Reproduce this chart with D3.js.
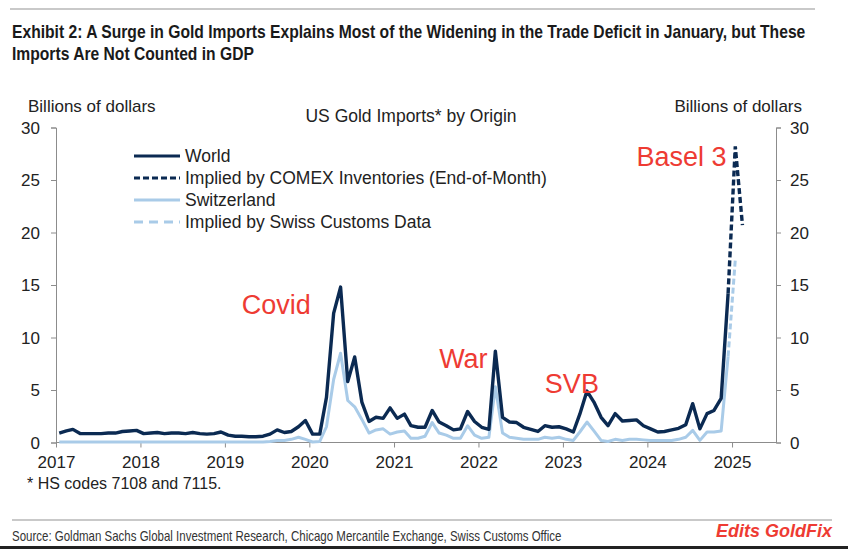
<!DOCTYPE html>
<html>
<head>
<meta charset="utf-8">
<script src="https://cdn.jsdelivr.net/npm/d3@7"></script>
<style>
  body { margin: 0; background: #fff; }
  svg { display: block; font-family: Arial, "Liberation Sans", sans-serif; }
  .axis path, .axis line { stroke: #8c8c8c; }
  .axis text { font-size: 17px; fill: #222; }
</style>
</head>
<body>
<div id="chart"></div>
<script>
/* DATA */
const yTicks = [0, 5, 10, 15, 20, 25, 30];
const xTickYears = [2017, 2018, 2019, 2020, 2021, 2022, 2023, 2024, 2025];

// monthly values, Jan 2017 .. Dec 2024 (billions of dollars)
const world = [
  0.9, 1.1, 1.25, 0.85, 0.85, 0.85, 0.85, 0.9, 0.9, 1.05, 1.1, 1.15,
  0.85, 0.9, 0.95, 0.85, 0.9, 0.9, 0.85, 0.95, 0.85, 0.8, 0.85, 1.0,
  0.7, 0.6, 0.6, 0.55, 0.55, 0.6, 0.8, 1.2, 0.95, 1.05, 1.5, 2.1,
  0.8, 0.8, 4.3, 12.3, 14.8, 5.8, 8.15, 3.85, 2.0, 2.4, 2.3, 3.3,
  2.3, 2.7, 1.6, 1.45, 1.45, 3.05, 1.95, 1.6, 1.2, 1.3, 2.95, 2.0,
  1.45, 1.25, 8.7, 2.4, 1.95, 1.9, 1.45, 1.25, 1.05, 1.6, 1.45, 1.5,
  1.3, 1.0, 2.7, 4.9, 3.85, 2.4, 1.6, 2.75, 2.05, 2.1, 2.15, 1.6,
  1.3, 1.0, 1.05, 1.2, 1.35, 1.7, 3.7, 1.3, 2.75, 3.05, 4.2, 14.2
];
const switzerland = [
  0.05, 0.05, 0.05, 0.05, 0.05, 0.05, 0.05, 0.05, 0.05, 0.05, 0.05, 0.05,
  0.05, 0.05, 0.05, 0.05, 0.05, 0.05, 0.05, 0.05, 0.05, 0.05, 0.05, 0.05,
  0.05, 0.05, 0.05, 0.05, 0.05, 0.05, 0.1, 0.2, 0.2, 0.3, 0.5, 0.3,
  0.05, 0.1, 1.5, 6.0, 8.5, 4.0, 3.4, 2.2, 0.9, 1.2, 1.3, 0.8,
  1.0, 1.1, 0.4, 0.4, 0.6, 1.9, 0.9, 0.7, 0.4, 0.4, 1.6, 0.7,
  0.4, 0.5, 5.3, 0.9, 0.5, 0.4, 0.3, 0.3, 0.3, 0.5, 0.4, 0.5,
  0.3, 0.2, 1.0, 1.95, 1.1, 0.2, 0.1, 0.3, 0.2, 0.3, 0.3, 0.25,
  0.2, 0.2, 0.2, 0.2, 0.3, 0.5, 1.15, 0.2, 1.0, 1.0, 1.1, 8.2
];
// dashed extensions: Dec 2024 .. Feb 2025
const comexDates = ["2024-12", "2025-01", "2025-02"];
const comexImplied = [14.2, 28.2, 20.7];
const swissDates = ["2024-12", "2025-01"];
const swissImplied = [8.2, 17.4];

// annotation text anchored at its left baseline
const annotations = [
  { text: "Covid", date: "2019-03", value: 12.2 },
  { text: "War", date: "2021-07", value: 7.1 },
  { text: "SVB", date: "2022-10", value: 4.7 },
  { text: "Basel 3", date: "2023-11", value: 26.3 }
];

const legendItems = [
  { label: "World", color: "#0b2a52", dash: null },
  { label: "Implied by COMEX Inventories (End-of-Month)", color: "#0b2a52", dash: "6,3" },
  { label: "Switzerland", color: "#a9cbe8", dash: null },
  { label: "Implied by Swiss Customs Data", color: "#a9cbe8", dash: "9,6" }
];

/* CONSTANTS */
const width = 848, height = 549;
const margin = { left: 56, right: 72, top: 127.5, bottom: 106.5 };
const navy = "#0b2a52", light = "#a9cbe8", red = "#ee3b33";

const monthDate = i => new Date(2017, i, 15);
const parseMid = s => { const [y, m] = s.split("-").map(Number); return new Date(y, m - 1, 15); };

const worldData = world.map((v, i) => ({ date: monthDate(i), value: v }));
const swissData = switzerland.map((v, i) => ({ date: monthDate(i), value: v }));
const comexData = comexDates.map((d, i) => ({ date: parseMid(d), value: comexImplied[i] }));
const swissImpData = swissDates.map((d, i) => ({ date: parseMid(d), value: swissImplied[i] }));

const svg = d3.select("#chart").append("svg").attr("width", width).attr("height", height);

// squeeze a text horizontally so it spans exactly `w` pixels from x
function fitText(sel, x, y, w) {
  const natural = sel.node().getComputedTextLength();
  sel.attr("x", 0).attr("y", 0)
    .attr("transform", `translate(${x},${y}) scale(${w / natural},1)`);
}

// header
svg.append("line").attr("x1", 10).attr("x2", 815).attr("y1", 9).attr("y2", 9)
  .attr("stroke", "#c9c9c9").attr("stroke-width", 2);
svg.append("text")
  .attr("font-weight", "bold").attr("font-size", 17.5).attr("fill", "#1a1a1a")
  .text("Exhibit 2: A Surge in Gold Imports Explains Most of the Widening in the Trade Deficit in January, but These")
  .call(fitText, 12, 38, 794);
svg.append("text")
  .attr("font-weight", "bold").attr("font-size", 17.5).attr("fill", "#1a1a1a")
  .text("Imports Are Not Counted in GDP")
  .call(fitText, 12, 60, 242);

/* SCALES */
const xScale = d3.scaleTime()
  .domain([new Date(2017, 0, 1), new Date(2025, 6, 10)])
  .range([margin.left, width - margin.right]);
const yScale = d3.scaleLinear()
  .domain([0, 30])
  .range([height - margin.bottom, margin.top]);

/* AXES */
svg.append("g").attr("class", "axis")
  .attr("transform", `translate(${margin.left},0)`)
  .call(d3.axisLeft(yScale).tickValues(yTicks).tickSize(5).tickPadding(11))
  .call(g => g.selectAll("text").attr("dy", "0.35em"));
svg.append("g").attr("class", "axis")
  .attr("transform", `translate(${width - margin.right},0)`)
  .call(d3.axisRight(yScale).tickValues(yTicks).tickSize(5).tickPadding(9))
  .call(g => g.selectAll("text").attr("dy", "0.35em"));
svg.append("g").attr("class", "axis")
  .attr("transform", `translate(0,${height - margin.bottom})`)
  .call(d3.axisBottom(xScale).tickValues(xTickYears.map(y => new Date(y, 0, 1)))
    .tickFormat(d3.timeFormat("%Y")).tickSize(5).tickSizeOuter(0).tickPadding(8))
  .call(g => g.select(".domain").attr("d", `M${margin.left},0H${width - margin.right}`));

svg.append("text").attr("x", 28).attr("y", 112).attr("font-size", 17).attr("fill", "#222")
  .text("Billions of dollars");
svg.append("text").attr("x", 802).attr("y", 112).attr("font-size", 17).attr("fill", "#222")
  .attr("text-anchor", "end").text("Billions of dollars");
svg.append("text").attr("x", 411).attr("y", 122).attr("font-size", 17.5).attr("fill", "#222")
  .attr("text-anchor", "middle").text("US Gold Imports* by Origin");

/* LINES */
const lineFunc = d3.line().x(d => xScale(d.date)).y(d => yScale(d.value));

svg.append("path").datum(swissData).attr("d", lineFunc)
  .attr("fill", "none").attr("stroke", light).attr("stroke-width", 3).attr("stroke-linejoin", "round");
svg.append("path").datum(swissImpData).attr("d", lineFunc)
  .attr("fill", "none").attr("stroke", light).attr("stroke-width", 3).attr("stroke-dasharray", "6,3");
svg.append("path").datum(worldData).attr("d", lineFunc)
  .attr("fill", "none").attr("stroke", navy).attr("stroke-width", 3.4).attr("stroke-linejoin", "round");
svg.append("path").datum(comexData).attr("d", lineFunc)
  .attr("fill", "none").attr("stroke", navy).attr("stroke-width", 3.4).attr("stroke-dasharray", "6,3");

/* LEGEND */
const legend = svg.append("g").attr("transform", "translate(134,156)");
const rows = legend.selectAll("g").data(legendItems).join("g")
  .attr("transform", (d, i) => `translate(0,${i * 22})`);
rows.append("line").attr("x1", 0).attr("x2", 46)
  .attr("stroke", d => d.color).attr("stroke-width", 3)
  .attr("stroke-dasharray", d => d.dash);
rows.append("text").attr("x", 51).attr("dy", "0.35em").attr("font-size", 17.5).attr("fill", "#222")
  .text(d => d.label);

/* ANNOTATIONS */
svg.selectAll("text.note").data(annotations).join("text").attr("class", "note")
  .attr("x", d => xScale(parseMid(d.date)))
  .attr("y", d => yScale(d.value))
  .attr("font-size", 27).attr("fill", red)
  .text(d => d.text);

/* FOOTNOTES */
svg.append("text").attr("x", 27).attr("y", 489).attr("font-size", 16).attr("fill", "#222")
  .text("* HS codes 7108 and 7115.");
svg.append("line").attr("x1", 12).attr("x2", 832).attr("y1", 520).attr("y2", 520)
  .attr("stroke", "#c9c9c9").attr("stroke-width", 2);
svg.append("text")
  .attr("font-size", 14).attr("fill", "#333")
  .text("Source: Goldman Sachs Global Investment Research, Chicago Mercantile Exchange, Swiss Customs Office")
  .call(fitText, 12, 541, 550);
svg.append("text")
  .attr("font-size", 18).attr("font-weight", "bold")
  .attr("font-style", "italic").attr("fill", red)
  .text("Edits GoldFix")
  .call(fitText, 716, 537, 116);
svg.append("rect").attr("x", 0).attr("y", 546).attr("width", width).attr("height", 3).attr("fill", "#222");
</script>
</body>
</html>
